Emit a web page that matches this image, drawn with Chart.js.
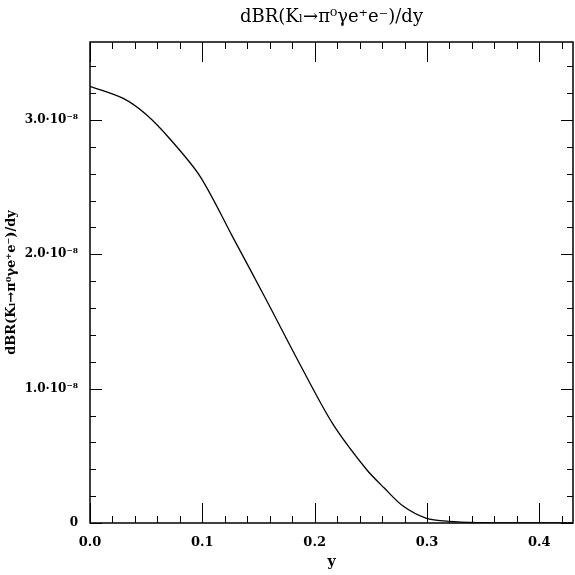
<!DOCTYPE html>
<html><head><meta charset="utf-8">
<script src="https://cdn.jsdelivr.net/npm/chart.js@4"></script>
<style>html,body{margin:0;padding:0;background:#fff}#w{width:575px;height:575px}</style>
</head><body><div id="w"><canvas id="c"></canvas></div>
<script>
const yVals = [0, 0.0296, 0.05, 0.071, 0.098, 0.127, 0.157, 0.187, 0.216, 0.246, 0.262, 0.279, 0.299, 0.32, 0.347, 0.38, 0.43];
const brVals = [3.25e-8, 3.16e-8, 3.04e-8, 2.86e-8, 2.58e-8, 2.13e-8, 1.66e-8, 1.18e-8, 0.74e-8, 0.40e-8, 0.26e-8, 0.124e-8, 0.037e-8, 0.012e-8, 0.003e-8, 0.0005e-8, 0];
const xTickLabels = ['0.0','0.1','0.2','0.3','0.4'];
const yTickLabels = ['0','1.0·10⁻⁸','2.0·10⁻⁸','3.0·10⁻⁸'];
const titleText = 'dBR(Kₗ→π⁰γe⁺e⁻)/dy';
const FONT = 'DejaVu Serif';

const inTicks = {
  id:'inTicks',
  afterDraw(ch){
    const {ctx, chartArea:a, scales:{x,y}} = ch;
    ctx.save(); ctx.strokeStyle='#000'; ctx.lineWidth=1.5;
    ctx.strokeRect(a.left,a.top,a.right-a.left,a.bottom-a.top);
    ctx.lineWidth=1;
    for(let i=0;i<=21;i++){ const v=i*0.02; if(v>x.max+1e-9) break;
      const p=Math.round(x.getPixelForValue(v))+0.5, L=(i%5===0)?20:7;
      ctx.beginPath(); ctx.moveTo(p,a.bottom); ctx.lineTo(p,a.bottom-L);
      ctx.moveTo(p,a.top); ctx.lineTo(p,a.top+L); ctx.stroke(); }
    for(let i=0;i<=18;i++){ const v=i*0.2e-8; if(v>y.max) break;
      const p=Math.round(y.getPixelForValue(v))+0.5, L=(i%5===0)?12:6;
      ctx.beginPath(); ctx.moveTo(a.left,p); ctx.lineTo(a.left+L,p);
      ctx.moveTo(a.right,p); ctx.lineTo(a.right-L,p); ctx.stroke(); }
    ctx.fillStyle='#000'; ctx.font='18px '+FONT; ctx.textAlign='center'; ctx.textBaseline='middle';
    ctx.fillText(titleText,(a.left+a.right)/2,17);
    ctx.restore();
  }
};

new Chart(document.getElementById('c'),{
  type:'line',
  data:{datasets:[{data:yVals.map((v,i)=>({x:v,y:brVals[i]})),borderColor:'#000',borderWidth:1.3,pointRadius:0,tension:0.3,fill:false}]},
  options:{
    responsive:true, maintainAspectRatio:false, animation:false,
    layout:{padding:{top:42,right:2,left:0,bottom:0}},
    plugins:{legend:{display:false},tooltip:{enabled:false}},
    scales:{
      x:{type:'linear',min:0,max:0.43,
        grid:{display:false},border:{display:false},
        afterBuildTicks(s){s.ticks=[0,0.1,0.2,0.3,0.4].map(v=>({value:v}));},
        ticks:{color:'#000',font:{family:FONT,size:13,weight:'bold'},maxRotation:0,padding:4,callback:(v,i)=>xTickLabels[i]},
        title:{display:true,text:'y',color:'#000',font:{family:FONT,size:14,weight:'bold'},padding:{top:2}},
        afterFit(s){s.height=52;}},
      y:{type:'linear',min:0,max:3.58e-8,
        grid:{display:false},border:{display:false},
        afterBuildTicks(s){s.ticks=[0,1e-8,2e-8,3e-8].map(v=>({value:v}));},
        ticks:{color:'#000',font:{family:FONT,size:12,weight:'bold'},padding:4,callback:(v,i)=>yTickLabels[i]},
        title:{display:true,text:'dBR(Kₗ→π⁰γe⁺e⁻)/dy',color:'#000',font:{family:FONT,size:13,weight:'bold'},padding:{bottom:0}},
        afterFit(s){s.width=90;}}
    }
  },
  plugins:[inTicks]
});
</script></body></html>
